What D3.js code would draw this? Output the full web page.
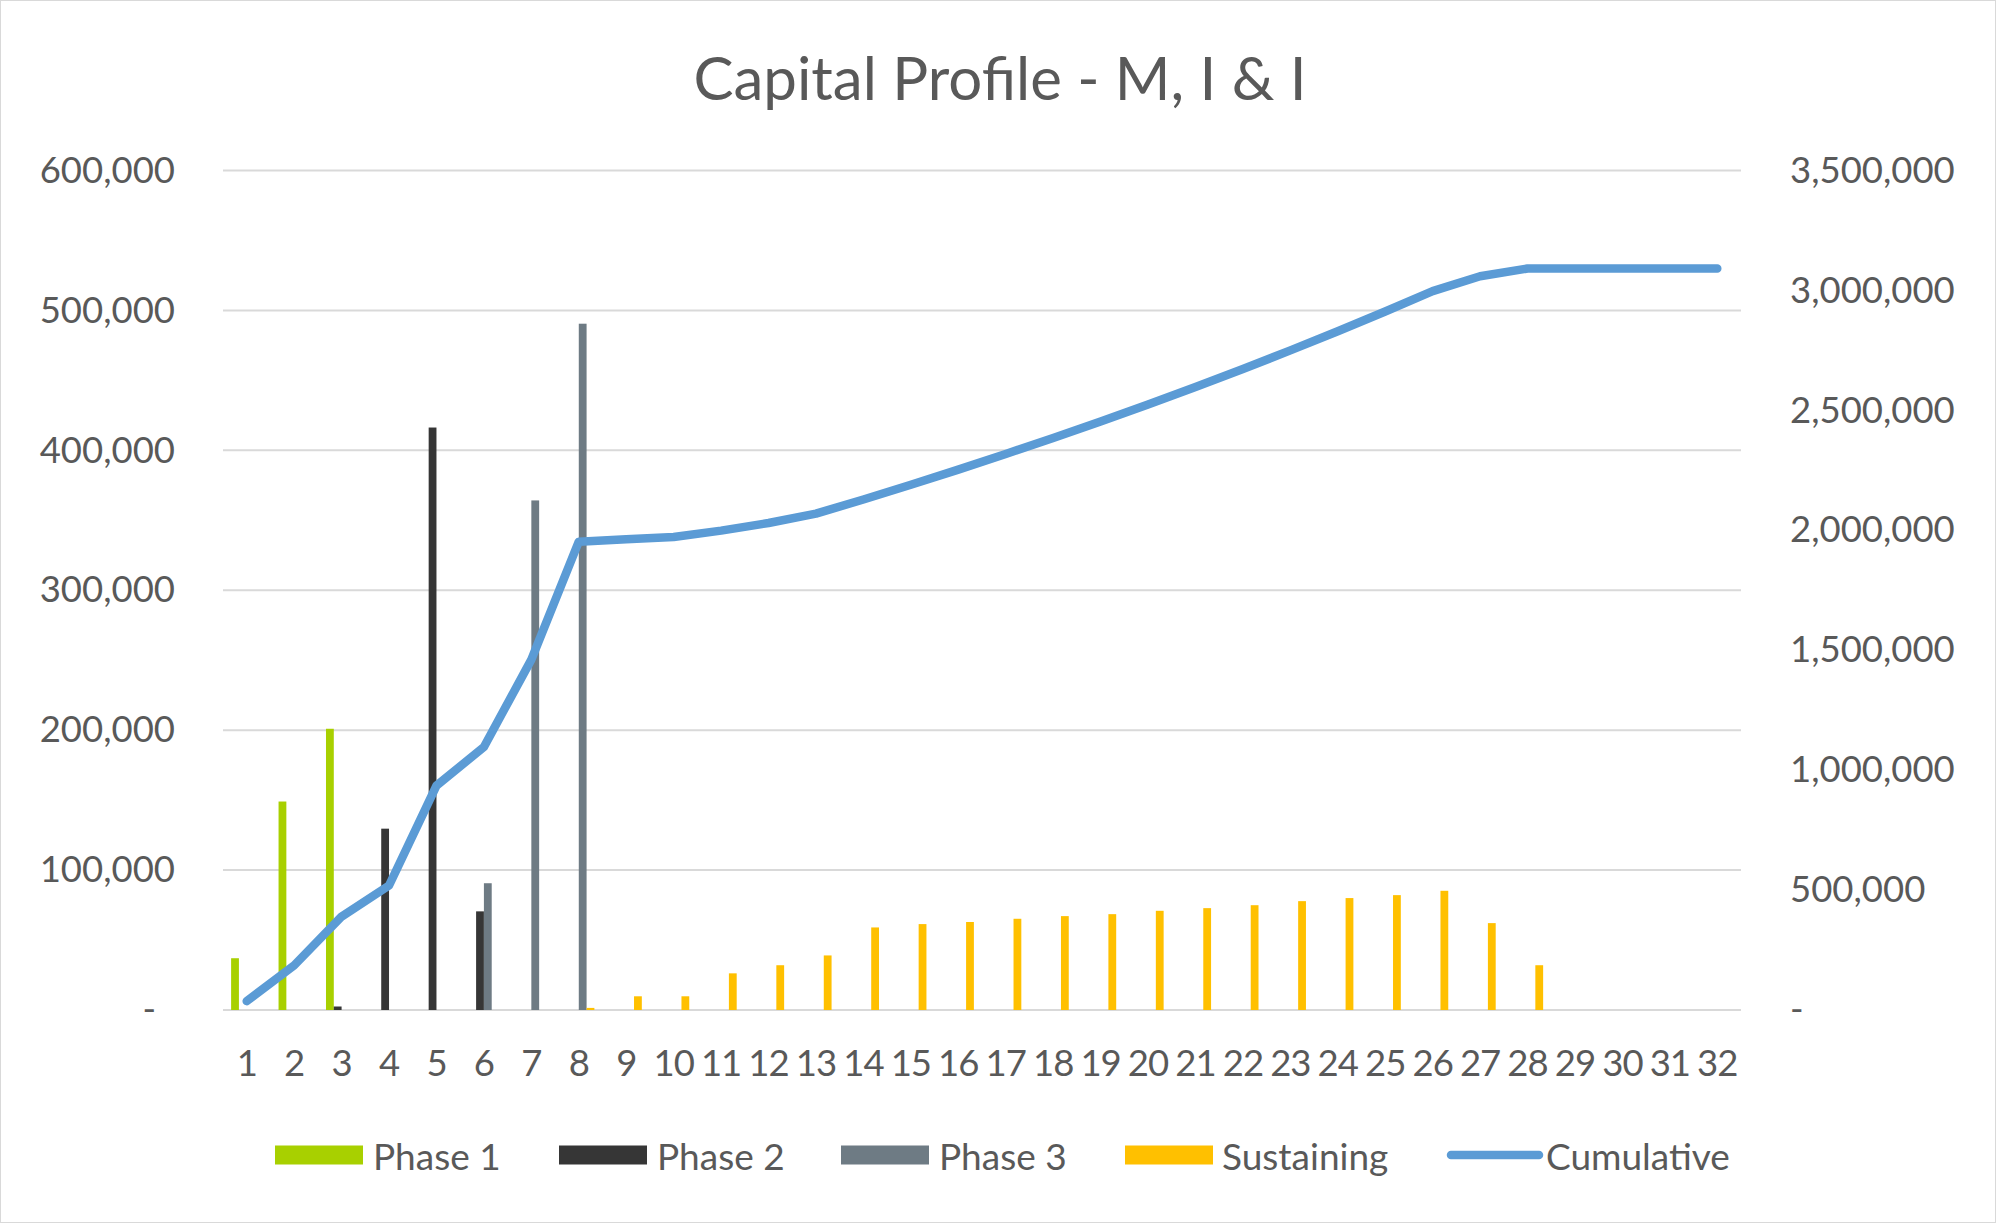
<!DOCTYPE html>
<html>
<head>
<meta charset="utf-8">
<script src="https://cdn.jsdelivr.net/npm/d3@7"></script>
<style>
  html, body { margin: 0; padding: 0; background: #fff; }
  svg { display: block; }
  text { font-family: Lato, "Open Sans", sans-serif; fill: #595959; }
</style>
</head>
<body>
<script>
// ---------- data ----------
const categories = ["1","2","3","4","5","6","7","8","9","10","11","12","13","14","15","16",
  "17","18","19","20","21","22","23","24","25","26","27","28","29","30","31","32"];

const phase1 = [37000,149000,201000,0,0,0,0,0,0,0,0,0,0,0,0,0,0,0,0,0,0,0,0,0,0,0,0,0,0,0,0,0];
const phase2 = [0,0,2500,129600,416300,70500,0,0,0,0,0,0,0,0,0,0,0,0,0,0,0,0,0,0,0,0,0,0,0,0,0,0];
const phase3 = [0,0,0,0,0,90600,364200,490500,0,0,0,0,0,0,0,0,0,0,0,0,0,0,0,0,0,0,0,0,0,0,0,0];
const sustaining = [0,0,0,0,0,0,0,1500,9800,9800,26200,32000,39000,59000,61400,62900,65200,67100,
  68500,70900,72800,74900,77800,80000,82100,85200,62100,32000,0,0,0,0];
const cumulative = [37000,186000,389500,519100,935400,1096500,1460700,1952700,1962500,1972300,
  1998500,2030500,2069500,2128500,2189900,2252800,2318000,2385100,2453600,2524500,2597300,
  2672200,2750000,2830000,2912100,2997300,3059400,3091400,3091400,3091400,3091400,3091400];

const seriesNames = ["Phase 1","Phase 2","Phase 3","Sustaining"];
const seriesValues = [phase1, phase2, phase3, sustaining];
const seriesColors = ["#A8D000","#363636","#6E7B84","#FFC000"];
const lineName = "Cumulative";
const lineColor = "#5B9BD5";

const leftTicks = [0,100000,200000,300000,400000,500000,600000];
const rightTicks = [0,500000,1000000,1500000,2000000,2500000,3000000,3500000];
const title = "Capital Profile - M, I & I";

// ---------- layout ----------
const W = 1996, H = 1223;
const plot = { left: 223, right: 1741, top: 170.5, bottom: 1010 };

const svg = d3.select("body").append("svg").attr("width", W).attr("height", H);
svg.append("rect").attr("x",0.5).attr("y",0.5).attr("width",W-1).attr("height",H-1)
  .attr("fill","#fff").attr("stroke","#D9D9D9").attr("stroke-width",1);

const x0 = d3.scaleBand().domain(categories).range([plot.left, plot.right]).paddingInner(0.342).paddingOuter(0.171);
const x1 = d3.scaleBand().domain(seriesNames).range([0, x0.bandwidth()]);
const yL = d3.scaleLinear().domain([0, 600000]).range([plot.bottom, plot.top]);
const yR = d3.scaleLinear().domain([0, 3500000]).range([plot.bottom, plot.top]);

// gridlines
svg.append("g").selectAll("line").data(leftTicks).join("line")
  .attr("x1", plot.left).attr("x2", plot.right)
  .attr("y1", d => yL(d)).attr("y2", d => yL(d))
  .attr("stroke", "#D9D9D9").attr("stroke-width", 2);

// title
svg.append("text").attr("x", 1000).attr("y", 77).attr("text-anchor","middle")
  .attr("dominant-baseline","central").style("font-size","60px").text(title);

const fmt = d => d === 0 ? "-" : d3.format(",")(d);

// left axis
const gL = svg.append("g").attr("transform", `translate(${plot.left},0)`)
  .call(d3.axisLeft(yL).tickValues(leftTicks).tickSize(0).tickPadding(48).tickFormat(fmt));
gL.select(".domain").remove();
gL.selectAll("text").style("font-size","36.5px").style("font-family","Lato, sans-serif").attr("fill","#595959")
  .attr("dx", d => d === 0 ? -19 : 0);

// right axis
const gR = svg.append("g").attr("transform", `translate(${plot.right},0)`)
  .call(d3.axisRight(yR).tickValues(rightTicks).tickSize(0).tickPadding(49).tickFormat(fmt));
gR.select(".domain").remove();
gR.selectAll("text").style("font-size","36.5px").style("font-family","Lato, sans-serif").attr("fill","#595959");

// bottom axis
const gB = svg.append("g").attr("transform", `translate(0,${plot.bottom})`)
  .call(d3.axisBottom(x0).tickSize(0).tickPadding(40));
gB.select(".domain").remove();
gB.selectAll("text").style("font-size","36.5px").style("font-family","Lato, sans-serif").attr("fill","#595959")
  .attr("letter-spacing", "-1px");

// bars
const barData = [];
categories.forEach((c, i) => {
  seriesNames.forEach((s, j) => barData.push({ c, s, v: seriesValues[j][i], color: seriesColors[j] }));
});
svg.append("g").selectAll("rect").data(barData).join("rect")
  .attr("x", d => x0(d.c) + x1(d.s))
  .attr("width", x1.bandwidth())
  .attr("y", d => yL(d.v))
  .attr("height", d => yL(0) - yL(d.v))
  .attr("fill", d => d.color);

// cumulative line
const line = d3.line().x((d, i) => x0(categories[i]) + x0.bandwidth() / 2).y(d => yR(d));
svg.append("path").datum(cumulative).attr("d", line)
  .attr("fill","none").attr("stroke", lineColor).attr("stroke-width", 8.5)
  .attr("stroke-linejoin","round").attr("stroke-linecap","round");

// legend
const legendY = 1155;
const legendItems = [
  { name: seriesNames[0], color: seriesColors[0], type: "bar", sx: 275, tx: 373 },
  { name: seriesNames[1], color: seriesColors[1], type: "bar", sx: 559, tx: 657 },
  { name: seriesNames[2], color: seriesColors[2], type: "bar", sx: 841, tx: 939 },
  { name: seriesNames[3], color: seriesColors[3], type: "bar", sx: 1125, tx: 1222 },
  { name: lineName, color: lineColor, type: "line", sx: 1451, tx: 1546 }
];
const lg = svg.append("g");
legendItems.forEach(it => {
  if (it.type === "bar") {
    lg.append("rect").attr("x", it.sx).attr("y", legendY - 9.5).attr("width", 88).attr("height", 19).attr("fill", it.color);
  } else {
    lg.append("line").attr("x1", it.sx).attr("x2", it.sx + 88).attr("y1", legendY).attr("y2", legendY)
      .attr("stroke", it.color).attr("stroke-width", 8.5).attr("stroke-linecap","round");
  }
  lg.append("text").attr("x", it.tx).attr("y", legendY).attr("dominant-baseline","central")
    .style("font-size","37px").text(it.name);
});
</script>
</body>
</html>
